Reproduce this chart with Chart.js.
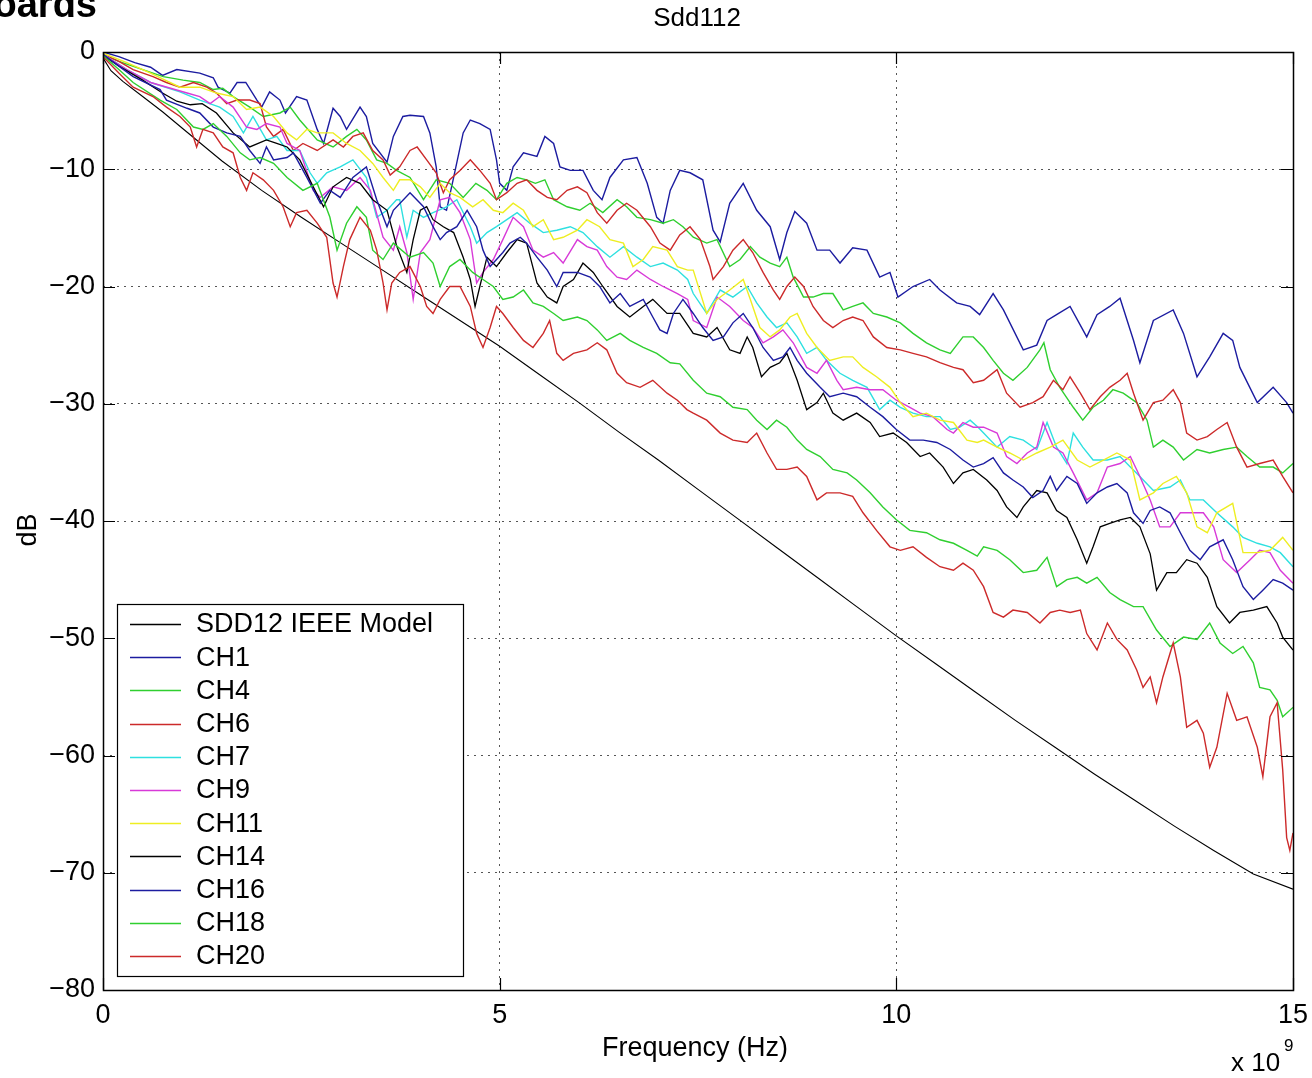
<!DOCTYPE html>
<html><head><meta charset="utf-8">
<script src="https://cdn.jsdelivr.net/npm/chart.js@4.4.1/dist/chart.umd.min.js"></script>
<style>html,body{margin:0;padding:0;background:#fff;overflow:hidden}canvas{display:block}</style>
</head><body>
<canvas id="c" width="1312" height="1078"></canvas>
<script>
// ---- DATA (frequency in units of 1e9 Hz, value in dB) ----
const chartTitle = 'Sdd112';
const xTickValues = [0, 5, 10, 15];
const yTickValues = [0, -10, -20, -30, -40, -50, -60, -70, -80];
const seriesLabels = ['SDD12 IEEE Model','CH1','CH4','CH6','CH7','CH9','CH11','CH14','CH16','CH18','CH20'];

const model = [[0,-0.5],[0.1,-1.6],[0.25,-2.5],[0.5,-3.8],[0.75,-5.1],[1,-6.5],[1.5,-9.3],[2,-11.8],[2.5,-14.1],[3,-16.3],[3.5,-18.5],[4,-20.7],[4.5,-22.9],[5,-25.1],[5.5,-27.5],[6,-29.9],[6.5,-32.4],[7,-34.8],[7.5,-37.3],[8,-39.8],[8.5,-42.3],[9,-44.8],[9.5,-47.3],[10,-49.8],[10.5,-52.2],[11,-54.6],[11.5,-57.0],[12,-59.3],[12.5,-61.6],[13,-63.8],[13.5,-66.0],[14,-68.1],[14.5,-70.1],[15,-71.4]];

const ch1 = [[0,0],[0.2,-0.4],[0.4,-0.9],[0.6,-1.3],[0.75,-2.0],[0.93,-1.5],[1.22,-1.8],[1.39,-2.2],[1.45,-3.0],[1.6,-3.5],[1.69,-2.6],[1.8,-2.6],[1.94,-4.1],[2.0,-4.7],[2.1,-3.4],[2.23,-4.1],[2.3,-5.2],[2.44,-3.8],[2.57,-4.1],[2.7,-6.6],[2.78,-7.8],[2.9,-4.8],[2.99,-5.5],[3.07,-6.6],[3.24,-4.7],[3.32,-5.5],[3.4,-7.8],[3.58,-9.4],[3.66,-7.2],[3.78,-5.5],[3.87,-5.4],[4.04,-5.5],[4.12,-6.9],[4.2,-9.8],[4.25,-13.2],[4.33,-13.5],[4.42,-10.7],[4.54,-6.9],[4.63,-5.8],[4.75,-6.1],[4.88,-6.6],[4.96,-9.2],[5.0,-11.2],[5.09,-11.8],[5.17,-9.8],[5.3,-8.6],[5.47,-8.9],[5.57,-7.2],[5.68,-7.8],[5.76,-9.8],[5.89,-10.1],[6.05,-10.1],[6.18,-11.8],[6.29,-12.6],[6.39,-10.7],[6.56,-9.2],[6.73,-9.0],[6.86,-11.2],[6.98,-14.1],[7.06,-14.6],[7.15,-11.8],[7.27,-10.1],[7.4,-10.3],[7.56,-10.9],[7.69,-15.2],[7.78,-16.2],[7.9,-12.9],[8.07,-11.2],[8.24,-13.5],[8.41,-14.9],[8.53,-17.7],[8.62,-15.4],[8.72,-13.6],[8.87,-14.6],[9.0,-16.9],[9.16,-16.9],[9.29,-18.0],[9.45,-16.7],[9.63,-16.9],[9.79,-19.2],[9.92,-18.8],[10.02,-20.9],[10.21,-20.0],[10.42,-19.4],[10.55,-20.3],[10.76,-21.4],[10.93,-21.7],[11.05,-22.4],[11.22,-20.6],[11.35,-22.0],[11.6,-25.4],[11.77,-25.0],[11.9,-22.9],[12.02,-22.4],[12.19,-21.7],[12.4,-24.3],[12.53,-22.4],[12.69,-21.7],[12.82,-21.0],[12.99,-24.6],[13.07,-26.5],[13.24,-22.9],[13.49,-22.0],[13.62,-24.0],[13.79,-27.7],[13.95,-26.0],[14.12,-24.0],[14.24,-24.6],[14.33,-26.9],[14.55,-29.9],[14.75,-28.6],[14.92,-29.9],[15.0,-30.8]];

const ch4 = [[0,-0.2],[0.2,-0.8],[0.5,-1.5],[0.76,-2.1],[1.01,-2.4],[1.22,-2.6],[1.39,-3.2],[1.51,-3.1],[1.64,-3.8],[1.85,-4.7],[2.02,-5.5],[2.23,-5.2],[2.36,-4.7],[2.48,-5.8],[2.7,-7.5],[2.9,-8.1],[3.07,-7.2],[3.2,-6.6],[3.32,-7.5],[3.45,-9.2],[3.58,-9.5],[3.7,-10.1],[3.87,-10.7],[4.04,-12.6],[4.2,-10.9],[4.37,-11.2],[4.54,-12.4],[4.7,-11.2],[4.84,-11.8],[4.96,-12.6],[5.09,-11.2],[5.22,-10.7],[5.34,-10.9],[5.45,-11.2],[5.57,-10.9],[5.68,-12.6],[5.85,-13.2],[6.01,-13.5],[6.14,-12.9],[6.3,-13.7],[6.48,-12.6],[6.6,-13.2],[6.73,-14.1],[6.9,-14.3],[7.06,-14.6],[7.19,-14.3],[7.31,-14.9],[7.44,-15.8],[7.61,-16.3],[7.74,-16.0],[7.9,-18.3],[8.03,-17.7],[8.16,-16.6],[8.28,-17.5],[8.41,-18.0],[8.53,-18.3],[8.62,-17.5],[8.7,-19.2],[8.83,-20.9],[8.95,-20.9],[9.08,-20.6],[9.2,-20.6],[9.33,-22.0],[9.45,-21.7],[9.58,-21.4],[9.71,-22.3],[9.88,-22.6],[10.05,-23.1],[10.21,-24.0],[10.38,-24.8],[10.55,-25.4],[10.68,-25.7],[10.84,-24.3],[10.97,-24.3],[11.1,-25.2],[11.22,-26.3],[11.35,-27.4],[11.47,-28.0],[11.65,-26.9],[11.81,-25.4],[11.86,-24.8],[11.94,-27.1],[12.06,-28.6],[12.23,-30.3],[12.35,-31.4],[12.48,-30.3],[12.61,-29.7],[12.73,-28.8],[12.86,-29.1],[13.03,-29.9],[13.16,-31.4],[13.24,-33.7],[13.36,-33.1],[13.49,-33.7],[13.62,-34.8],[13.79,-33.9],[13.95,-34.2],[14.12,-33.9],[14.29,-33.7],[14.42,-34.5],[14.58,-35.4],[14.75,-35.4],[14.87,-35.9],[15.0,-35.1]];

const ch6 = [[0,-0.2],[0.2,-0.8],[0.38,-1.5],[0.63,-2.1],[0.8,-2.6],[0.97,-3.0],[1.14,-2.6],[1.31,-3.0],[1.43,-3.5],[1.56,-4.4],[1.69,-4.1],[1.85,-4.1],[1.98,-4.4],[2.06,-6.4],[2.15,-7.2],[2.27,-6.6],[2.4,-8.4],[2.52,-7.8],[2.7,-8.4],[2.9,-7.5],[3.03,-8.1],[3.15,-7.2],[3.28,-6.9],[3.4,-8.4],[3.53,-9.2],[3.62,-10.5],[3.74,-9.8],[3.87,-8.4],[3.96,-8.1],[4.08,-9.2],[4.2,-10.3],[4.29,-12.0],[4.37,-10.9],[4.5,-10.1],[4.63,-9.2],[4.75,-10.1],[4.88,-11.2],[4.96,-12.6],[5.09,-12.0],[5.22,-11.2],[5.34,-10.9],[5.47,-11.8],[5.6,-12.4],[5.72,-12.6],[5.85,-11.8],[5.98,-11.5],[6.1,-12.0],[6.23,-13.7],[6.35,-14.6],[6.48,-13.5],[6.6,-12.9],[6.73,-13.5],[6.9,-14.9],[7.02,-16.3],[7.15,-16.9],[7.27,-15.6],[7.4,-14.9],[7.53,-16.0],[7.65,-18.3],[7.69,-19.4],[7.82,-18.3],[7.94,-16.9],[8.07,-16.0],[8.19,-17.1],[8.32,-18.8],[8.45,-20.3],[8.53,-21.1],[8.62,-20.0],[8.72,-19.2],[8.83,-20.0],[8.95,-21.7],[9.08,-22.9],[9.2,-23.5],[9.33,-22.9],[9.45,-22.6],[9.58,-22.9],[9.71,-24.3],[9.88,-25.2],[10.05,-25.4],[10.21,-25.7],[10.38,-26.0],[10.55,-26.5],[10.72,-26.9],[10.84,-27.1],[10.97,-28.2],[11.1,-28.0],[11.27,-27.1],[11.39,-29.1],[11.56,-30.3],[11.72,-29.9],[11.85,-29.4],[11.98,-28.0],[12.1,-28.8],[12.19,-27.7],[12.32,-29.1],[12.44,-30.5],[12.57,-29.4],[12.69,-28.6],[12.82,-28.0],[12.91,-27.4],[12.99,-29.1],[13.11,-31.4],[13.24,-29.9],[13.36,-29.7],[13.49,-28.8],[13.58,-29.9],[13.66,-32.5],[13.79,-33.1],[13.92,-32.8],[14.04,-32.2],[14.17,-31.6],[14.29,-33.7],[14.42,-35.4],[14.58,-35.1],[14.75,-34.8],[14.87,-36.2],[15.0,-37.6]];

const ch7 = [[0,-0.2],[0.3,-1.5],[0.6,-2.6],[0.97,-3.4],[1.22,-4.1],[1.47,-4.7],[1.64,-5.5],[1.77,-6.9],[1.89,-5.5],[2.06,-7.5],[2.19,-7.2],[2.32,-8.4],[2.48,-8.4],[2.61,-10.3],[2.7,-11.2],[2.82,-10.3],[2.99,-9.8],[3.15,-9.2],[3.32,-10.7],[3.45,-14.1],[3.58,-13.5],[3.7,-12.6],[3.74,-12.6],[3.83,-15.8],[3.91,-13.5],[4.04,-14.1],[4.16,-13.7],[4.33,-13.2],[4.46,-12.6],[4.63,-14.9],[4.71,-16.3],[4.84,-15.4],[4.96,-14.9],[5.09,-14.3],[5.22,-13.7],[5.38,-14.6],[5.55,-15.4],[5.72,-15.2],[5.89,-14.9],[6.05,-15.4],[6.23,-16.6],[6.39,-17.5],[6.56,-16.6],[6.73,-17.5],[6.9,-18.3],[7.06,-18.0],[7.24,-18.6],[7.37,-19.4],[7.44,-20.6],[7.61,-22.3],[7.78,-20.3],[7.94,-20.9],[8.12,-20.0],[8.24,-21.4],[8.37,-22.6],[8.49,-23.5],[8.62,-23.1],[8.75,-24.3],[8.87,-25.7],[9.0,-25.2],[9.12,-26.3],[9.29,-27.4],[9.45,-28.0],[9.63,-28.6],[9.79,-30.5],[9.92,-29.7],[10.05,-30.3],[10.21,-30.8],[10.38,-31.1],[10.55,-31.1],[10.68,-32.2],[10.8,-32.0],[10.93,-31.4],[11.03,-32.0],[11.1,-32.5],[11.27,-33.7],[11.43,-32.8],[11.6,-33.1],[11.77,-33.9],[11.9,-31.6],[12.02,-33.7],[12.15,-35.1],[12.23,-32.5],[12.35,-33.7],[12.48,-34.8],[12.66,-34.8],[12.82,-34.5],[12.95,-35.4],[13.07,-36.2],[13.24,-37.4],[13.45,-37.1],[13.58,-36.5],[13.7,-38.2],[13.87,-38.2],[14.04,-39.3],[14.24,-40.5],[14.37,-41.4],[14.55,-41.9],[14.71,-42.2],[14.84,-42.7],[15.0,-43.9]];

const ch9 = [[0,-0.2],[0.3,-1.5],[0.6,-2.6],[1.06,-3.5],[1.22,-3.8],[1.35,-4.4],[1.47,-3.8],[1.64,-4.7],[1.81,-6.4],[1.94,-6.6],[2.06,-6.1],[2.23,-6.4],[2.32,-7.8],[2.48,-8.4],[2.65,-11.8],[2.74,-12.4],[2.9,-11.5],[3.07,-11.8],[3.24,-10.7],[3.37,-11.8],[3.53,-15.8],[3.66,-16.9],[3.74,-14.9],[3.83,-17.1],[3.91,-21.1],[4.0,-17.1],[4.12,-16.0],[4.25,-12.6],[4.37,-12.4],[4.5,-13.7],[4.63,-16.0],[4.71,-19.7],[4.79,-18.8],[4.92,-17.7],[5.04,-16.0],[5.17,-14.1],[5.3,-14.9],[5.42,-16.9],[5.55,-17.5],[5.68,-17.1],[5.8,-18.0],[5.98,-16.0],[6.1,-16.6],[6.23,-16.9],[6.35,-18.3],[6.48,-19.2],[6.6,-19.4],[6.73,-18.6],[6.9,-19.4],[7.06,-20.0],[7.24,-20.6],[7.37,-21.1],[7.44,-22.9],[7.61,-23.5],[7.74,-20.9],[7.9,-21.7],[8.07,-22.9],[8.19,-23.5],[8.32,-24.8],[8.45,-24.3],[8.57,-23.7],[8.7,-24.8],[8.87,-26.9],[9.0,-27.4],[9.12,-26.3],[9.25,-28.0],[9.33,-28.8],[9.5,-28.6],[9.67,-28.8],[9.83,-28.8],[10.0,-29.7],[10.17,-30.3],[10.3,-30.8],[10.46,-31.1],[10.64,-32.2],[10.72,-32.5],[10.84,-31.6],[10.97,-32.0],[11.1,-32.0],[11.27,-32.5],[11.39,-34.5],[11.52,-35.1],[11.65,-34.2],[11.77,-33.7],[11.85,-31.6],[11.98,-33.7],[12.1,-34.2],[12.23,-35.9],[12.4,-38.2],[12.53,-37.6],[12.66,-35.4],[12.82,-35.1],[12.95,-34.5],[13.07,-36.2],[13.2,-38.2],[13.32,-40.5],[13.45,-40.5],[13.58,-39.3],[13.7,-39.3],[13.87,-39.3],[14.0,-40.5],[14.12,-43.3],[14.29,-44.4],[14.46,-43.3],[14.58,-42.5],[14.71,-42.7],[14.84,-44.2],[15.0,-45.3]];

const ch11 = [[0,-0.1],[0.3,-0.9],[0.6,-1.8],[0.97,-3.0],[1.22,-3.0],[1.43,-3.5],[1.64,-3.8],[1.81,-4.9],[1.98,-4.7],[2.15,-5.5],[2.32,-6.9],[2.44,-7.5],[2.57,-6.6],[2.7,-6.9],[2.9,-6.9],[3.07,-7.8],[3.24,-8.4],[3.4,-9.5],[3.53,-10.7],[3.66,-11.8],[3.74,-10.9],[3.87,-10.9],[4.0,-11.5],[4.12,-12.4],[4.25,-11.2],[4.37,-12.0],[4.5,-12.4],[4.66,-13.2],[4.79,-12.6],[4.92,-13.5],[5.04,-13.7],[5.17,-12.9],[5.3,-13.5],[5.42,-14.9],[5.55,-14.3],[5.68,-16.0],[5.8,-15.8],[5.98,-15.2],[6.1,-14.3],[6.26,-14.9],[6.39,-16.0],[6.56,-16.3],[6.68,-18.3],[6.81,-17.7],[6.93,-16.6],[7.11,-16.9],[7.24,-18.3],[7.37,-18.6],[7.44,-18.6],[7.61,-22.3],[7.74,-21.1],[7.9,-20.3],[8.07,-19.4],[8.16,-21.1],[8.28,-23.5],[8.41,-24.3],[8.53,-23.7],[8.66,-22.6],[8.75,-22.3],[8.87,-24.0],[9.0,-25.2],[9.16,-26.3],[9.33,-26.0],[9.45,-26.0],[9.58,-26.9],[9.75,-27.7],[9.92,-28.6],[10.05,-29.9],[10.21,-31.1],[10.38,-30.8],[10.55,-31.4],[10.72,-31.6],[10.89,-33.1],[11.02,-33.3],[11.1,-33.1],[11.27,-33.7],[11.43,-34.2],[11.6,-34.8],[11.77,-34.2],[11.94,-33.7],[12.1,-33.1],[12.28,-34.8],[12.44,-35.4],[12.61,-34.8],[12.78,-34.2],[12.95,-34.8],[13.07,-38.2],[13.24,-37.6],[13.36,-36.8],[13.53,-36.2],[13.66,-37.6],[13.79,-40.5],[13.92,-41.0],[14.04,-39.3],[14.24,-38.5],[14.37,-42.7],[14.55,-42.7],[14.71,-42.5],[14.87,-41.4],[15.0,-42.5]];

const ch14 = [[0,-0.3],[0.2,-1.2],[0.5,-2.4],[0.75,-3.5],[0.93,-4.2],[1.1,-4.5],[1.25,-4.4],[1.43,-5.2],[1.64,-6.9],[1.85,-8.1],[2.06,-7.5],[2.19,-7.8],[2.32,-8.1],[2.48,-9.2],[2.65,-11.5],[2.78,-13.2],[2.9,-11.5],[3.07,-10.7],[3.24,-11.2],[3.4,-12.6],[3.58,-13.5],[3.7,-16.5],[3.83,-18.8],[3.91,-16.0],[4.0,-13.5],[4.08,-13.2],[4.16,-14.3],[4.29,-14.9],[4.42,-15.4],[4.54,-17.5],[4.63,-19.4],[4.69,-21.7],[4.75,-20.0],[4.84,-17.5],[4.96,-18.3],[5.09,-17.1],[5.22,-16.0],[5.34,-16.3],[5.47,-19.7],[5.6,-20.9],[5.72,-21.4],[5.8,-20.0],[5.93,-19.4],[6.05,-18.0],[6.18,-18.8],[6.3,-20.0],[6.48,-21.7],[6.64,-22.6],[6.81,-21.7],[6.93,-21.1],[7.11,-22.3],[7.27,-22.3],[7.44,-24.0],[7.61,-24.3],[7.74,-23.5],[7.9,-25.4],[8.03,-25.7],[8.12,-24.3],[8.19,-25.2],[8.3,-27.7],[8.41,-26.9],[8.53,-26.5],[8.62,-25.7],[8.75,-28.0],[8.87,-30.5],[9.0,-29.9],[9.08,-29.1],[9.2,-30.8],[9.33,-31.4],[9.5,-30.8],[9.67,-31.6],[9.79,-32.8],[9.96,-32.5],[10.13,-33.3],[10.3,-34.5],[10.42,-34.2],[10.59,-35.4],[10.72,-36.8],[10.84,-35.9],[10.97,-35.6],[11.14,-36.5],[11.27,-37.4],[11.39,-38.8],[11.52,-39.7],[11.6,-38.8],[11.77,-37.4],[11.9,-37.6],[12.02,-39.1],[12.15,-39.7],[12.28,-41.6],[12.4,-43.6],[12.48,-42.2],[12.57,-40.5],[12.69,-40.2],[12.82,-39.9],[12.95,-39.7],[13.07,-40.5],[13.2,-42.8],[13.28,-45.9],[13.41,-44.4],[13.53,-44.4],[13.66,-43.3],[13.79,-43.6],[13.92,-44.8],[14.04,-47.3],[14.2,-48.7],[14.33,-47.8],[14.5,-47.6],[14.67,-47.3],[14.8,-48.7],[14.87,-49.9],[15.0,-51.0]];

const ch16 = [[0,-0.2],[0.2,-1.2],[0.38,-2.1],[0.72,-3.2],[0.8,-4.1],[1.06,-4.8],[1.22,-5.2],[1.39,-6.4],[1.56,-6.9],[1.73,-7.2],[1.85,-8.4],[1.98,-9.5],[2.06,-8.1],[2.15,-9.2],[2.32,-9.0],[2.4,-8.6],[2.57,-10.7],[2.74,-12.9],[2.86,-11.8],[2.99,-12.4],[3.15,-10.7],[3.32,-9.8],[3.45,-12.6],[3.58,-14.9],[3.66,-13.5],[3.87,-12.0],[4.04,-13.2],[4.16,-14.9],[4.25,-16.0],[4.33,-15.4],[4.46,-14.9],[4.59,-13.5],[4.71,-14.9],[4.79,-16.9],[4.88,-18.3],[4.96,-17.7],[5.04,-17.1],[5.13,-16.3],[5.26,-15.8],[5.34,-16.3],[5.47,-17.5],[5.6,-18.6],[5.72,-20.0],[5.8,-18.8],[5.98,-18.8],[6.14,-19.2],[6.26,-20.0],[6.39,-21.4],[6.52,-20.6],[6.64,-21.7],[6.81,-21.1],[6.93,-22.6],[7.02,-23.7],[7.11,-24.0],[7.19,-22.3],[7.31,-21.1],[7.44,-22.3],[7.56,-23.5],[7.69,-24.6],[7.82,-24.3],[7.94,-23.1],[8.07,-22.3],[8.19,-23.5],[8.32,-25.2],[8.45,-26.3],[8.57,-26.0],[8.66,-25.2],[8.75,-26.3],[8.87,-27.4],[9.04,-28.6],[9.16,-29.4],[9.33,-29.1],[9.5,-29.4],[9.67,-30.3],[9.83,-31.1],[10.0,-32.2],[10.17,-33.1],[10.34,-33.1],[10.51,-33.3],[10.68,-33.9],[10.84,-34.8],[10.97,-35.4],[11.1,-35.1],[11.22,-34.6],[11.35,-35.9],[11.47,-36.5],[11.6,-37.1],[11.72,-38.0],[11.85,-37.4],[11.94,-36.2],[12.02,-37.4],[12.15,-36.2],[12.28,-36.8],[12.4,-38.5],[12.53,-37.6],[12.66,-37.1],[12.78,-36.8],[12.91,-37.6],[12.99,-39.3],[13.11,-40.2],[13.2,-39.1],[13.32,-38.8],[13.45,-39.3],[13.58,-41.0],[13.7,-42.5],[13.83,-43.3],[13.95,-42.2],[14.12,-41.6],[14.24,-43.3],[14.37,-45.6],[14.5,-46.7],[14.62,-45.9],[14.75,-45.0],[14.87,-45.3],[15.0,-45.9]];

const ch18 = [[0,-0.3],[0.2,-1.5],[0.38,-2.6],[0.72,-4.1],[0.93,-4.9],[1.14,-6.4],[1.26,-6.6],[1.39,-6.1],[1.56,-7.2],[1.73,-8.6],[1.85,-9.2],[1.98,-9.0],[2.15,-9.5],[2.32,-10.7],[2.52,-11.8],[2.7,-11.2],[2.86,-14.1],[2.95,-16.9],[3.07,-14.6],[3.2,-13.2],[3.32,-14.1],[3.4,-16.9],[3.53,-17.7],[3.66,-16.3],[3.87,-17.5],[4.04,-17.1],[4.16,-18.0],[4.25,-20.0],[4.37,-18.3],[4.5,-17.7],[4.66,-18.8],[4.79,-19.4],[4.92,-20.0],[5.04,-21.1],[5.17,-20.9],[5.3,-20.3],[5.42,-21.4],[5.55,-21.7],[5.68,-22.3],[5.8,-22.9],[5.98,-22.6],[6.1,-22.9],[6.23,-23.7],[6.35,-24.6],[6.52,-24.0],[6.64,-24.6],[6.81,-25.2],[6.98,-25.7],[7.15,-26.5],[7.27,-26.6],[7.44,-28.0],[7.61,-29.1],[7.78,-29.4],[7.94,-30.3],[8.12,-30.5],[8.24,-31.4],[8.37,-32.2],[8.49,-31.4],[8.62,-32.0],[8.75,-33.1],[8.87,-33.9],[9.04,-34.5],[9.2,-35.6],[9.38,-35.9],[9.5,-36.5],[9.67,-37.6],[9.83,-38.8],[10.0,-39.9],[10.17,-40.8],[10.38,-41.0],[10.55,-41.6],[10.72,-41.9],[10.89,-42.5],[11.02,-43.0],[11.1,-42.2],[11.27,-42.5],[11.43,-43.3],[11.6,-44.4],[11.77,-44.2],[11.9,-43.1],[12.02,-45.6],[12.15,-45.0],[12.28,-44.8],[12.4,-45.3],[12.53,-44.8],[12.69,-46.1],[12.82,-46.7],[12.99,-47.3],[13.11,-47.3],[13.28,-49.3],[13.45,-50.7],[13.62,-49.9],[13.79,-50.1],[13.95,-48.7],[14.08,-50.4],[14.24,-51.3],[14.37,-50.7],[14.5,-52.1],[14.58,-54.2],[14.71,-54.4],[14.8,-55.3],[14.87,-56.7],[15.0,-55.9]];

const ch20 = [[0,-0.4],[0.2,-1.8],[0.38,-3.0],[0.63,-3.8],[0.8,-4.7],[0.97,-5.5],[1.1,-6.4],[1.18,-8.1],[1.26,-6.6],[1.39,-6.9],[1.51,-8.1],[1.64,-8.6],[1.73,-10.7],[1.81,-11.8],[1.89,-10.3],[2.02,-10.9],[2.15,-11.8],[2.27,-13.2],[2.36,-14.9],[2.44,-13.7],[2.57,-13.5],[2.7,-14.6],[2.82,-15.8],[2.9,-19.7],[2.95,-20.9],[3.03,-18.3],[3.11,-16.0],[3.24,-14.1],[3.37,-15.2],[3.45,-16.9],[3.53,-19.7],[3.58,-22.0],[3.64,-19.7],[3.74,-18.8],[3.87,-18.3],[4.0,-20.0],[4.08,-21.7],[4.16,-22.3],[4.25,-21.1],[4.37,-20.0],[4.5,-20.0],[4.63,-21.7],[4.71,-24.0],[4.79,-25.2],[4.88,-23.5],[4.96,-21.7],[5.04,-22.3],[5.17,-23.5],[5.3,-24.6],[5.42,-25.2],[5.55,-24.0],[5.63,-22.9],[5.72,-25.7],[5.8,-26.3],[5.93,-25.7],[6.1,-25.4],[6.23,-24.8],[6.35,-25.4],[6.48,-27.4],[6.6,-28.2],[6.77,-28.6],[6.93,-28.0],[7.11,-29.1],[7.24,-29.7],[7.36,-30.5],[7.44,-30.8],[7.61,-31.4],[7.78,-32.5],[7.94,-33.1],[8.12,-33.3],[8.24,-32.5],[8.37,-34.2],[8.49,-35.6],[8.62,-35.6],[8.75,-35.4],[8.87,-36.2],[9.0,-38.2],[9.12,-37.6],[9.29,-37.6],[9.45,-37.9],[9.58,-39.3],[9.75,-40.8],[9.92,-42.2],[10.05,-42.5],[10.21,-42.2],[10.38,-43.1],[10.55,-43.9],[10.72,-44.2],[10.84,-43.6],[10.97,-44.2],[11.1,-45.6],[11.22,-47.8],[11.35,-48.2],[11.47,-47.6],[11.65,-47.8],[11.81,-48.7],[11.94,-47.8],[12.06,-47.6],[12.19,-47.8],[12.32,-47.6],[12.4,-49.6],[12.53,-51.0],[12.66,-48.7],[12.78,-50.1],[12.91,-51.0],[13.03,-52.7],[13.11,-54.2],[13.2,-53.3],[13.28,-55.5],[13.36,-53.3],[13.49,-50.4],[13.58,-53.3],[13.66,-57.6],[13.79,-57.0],[13.87,-58.1],[13.95,-61.0],[14.04,-59.3],[14.17,-54.7],[14.29,-57.0],[14.42,-56.7],[14.55,-59.3],[14.62,-61.8],[14.71,-56.7],[14.8,-55.5],[14.87,-61.2],[14.92,-67.0],[14.96,-68.1],[15.0,-66.6]];

const seriesData = [model, ch1, ch4, ch6, ch7, ch9, ch11, ch14, ch16, ch18, ch20];

// ---- STYLE ----
const FONT = '"Liberation Sans", Arial, Helvetica, sans-serif';
const C = {b:'#1c1ca0', g:'#2fcf2f', r:'#cc2a2a', c:'#2ee0e0', m:'#d83ad8', y:'#eeee22', k:'#000000'};
const seriesColors = [C.k, C.b, C.g, C.r, C.c, C.m, C.y, C.k, C.b, C.g, C.r];
const seriesWidths = [1.1, 1.4, 1.4, 1.4, 1.4, 1.4, 1.4, 1.3, 1.4, 1.4, 1.4];

const decor = {
  id: 'decor',
  afterDatasetsDraw(chart) {
    const ctx = chart.ctx, a = chart.chartArea, xs = chart.scales.x, ys = chart.scales.y;
    ctx.save();
    // tick marks (inward, all four sides)
    ctx.strokeStyle = '#000'; ctx.lineWidth = 1.2;
    const TL = 12;
    ctx.beginPath();
    yTickValues.forEach(v => {
      const y = Math.round(ys.getPixelForValue(v)) + 0.5;
      ctx.moveTo(a.left, y); ctx.lineTo(a.left + TL, y);
      ctx.moveTo(a.right, y); ctx.lineTo(a.right - TL, y);
    });
    xTickValues.forEach(v => {
      const x = Math.round(xs.getPixelForValue(v)) + 0.5;
      ctx.moveTo(x, a.bottom); ctx.lineTo(x, a.bottom - TL);
      ctx.moveTo(x, a.top); ctx.lineTo(x, a.top + TL);
    });
    ctx.stroke();
    // box
    ctx.lineWidth = 1.5;
    ctx.strokeRect(a.left + 0.5, a.top + 0.5, a.right - a.left, a.bottom - a.top);

    // legend
    const lx = 117, ly = 604, lw = 346, lh = 372;
    ctx.fillStyle = '#fff';
    ctx.fillRect(lx, ly, lw, lh);
    ctx.lineWidth = 1.2; ctx.strokeStyle = '#000';
    ctx.strokeRect(lx + 0.5, ly + 0.5, lw, lh);
    ctx.font = '27px ' + FONT;
    ctx.textBaseline = 'middle'; ctx.textAlign = 'left';
    chart.data.datasets.forEach((ds, i) => {
      const y = ly + 20 + i * 33.2;
      ctx.strokeStyle = ds.borderColor; ctx.lineWidth = 1.3;
      ctx.beginPath(); ctx.moveTo(130, Math.round(y) + 0.5); ctx.lineTo(181, Math.round(y) + 0.5); ctx.stroke();
      ctx.fillStyle = '#000';
      ctx.fillText(ds.label, 196, y + 1);
    });

    // texts
    ctx.fillStyle = '#000';
    ctx.font = '26px ' + FONT;
    ctx.textAlign = 'center'; ctx.textBaseline = 'middle';
    ctx.fillText(chartTitle, 697, 19);
    ctx.font = '27px ' + FONT;
    ctx.fillText('Frequency (Hz)', 695, 1049);
    ctx.save();
    ctx.translate(29, 530); ctx.rotate(-Math.PI / 2);
    ctx.fillText('dB', 0, 0);
    ctx.restore();
    ctx.textAlign = 'left'; ctx.textBaseline = 'alphabetic';
    ctx.font = '26px ' + FONT;
    ctx.fillText('x 10', 1231, 1071);
    ctx.font = '17px ' + FONT;
    ctx.fillText('9', 1284, 1051);
    // cut-off heading at the top-left corner
    ctx.font = 'bold 38px ' + FONT;
    ctx.textAlign = 'right';
    ctx.fillText('Boards', 97, 17);
    ctx.restore();
  }
};

const ctx = document.getElementById('c').getContext('2d');
new Chart(ctx, {
  type: 'line',
  data: {
    datasets: seriesData.map((arr, i) => ({
      label: seriesLabels[i],
      data: arr.map(p => ({x: p[0], y: p[1]})),
      borderColor: seriesColors[i],
      borderWidth: seriesWidths[i],
      pointRadius: 0,
      tension: 0,
      fill: false,
      order: seriesData.length - i
    }))
  },
  options: {
    responsive: false,
    animation: false,
    devicePixelRatio: 1,
    layout: {padding: {left: 0, right: 19, top: 52, bottom: 0}},
    plugins: {legend: {display: false}, tooltip: {enabled: false}, title: {display: false}},
    scales: {
      x: {
        type: 'linear', min: 0, max: 15,
        afterBuildTicks: s => { s.ticks = xTickValues.map(v => ({value: v})); },
        ticks: {font: {family: FONT, size: 27}, color: '#000', padding: 9, maxRotation: 0, autoSkip: false},
        grid: {color: '#555', lineWidth: 1, drawTicks: false},
        border: {display: false, dash: [2, 5]},
        afterFit: s => { s.height = 88; s.paddingLeft = 0; s.paddingRight = 0; }
      },
      y: {
        type: 'linear', min: -80, max: 0,
        afterBuildTicks: s => { s.ticks = yTickValues.map(v => ({value: v})); },
        ticks: {font: {family: FONT, size: 27}, color: '#000', padding: 8,
                callback: v => v < 0 ? '\u2212' + Math.abs(v) : String(v)},
        grid: {color: '#555', lineWidth: 1, drawTicks: false},
        border: {display: false, dash: [2, 5]},
        afterFit: s => { s.width = 103; s.paddingTop = 0; s.paddingBottom = 0; }
      }
    }
  },
  plugins: [decor]
});
</script>
</body></html>
